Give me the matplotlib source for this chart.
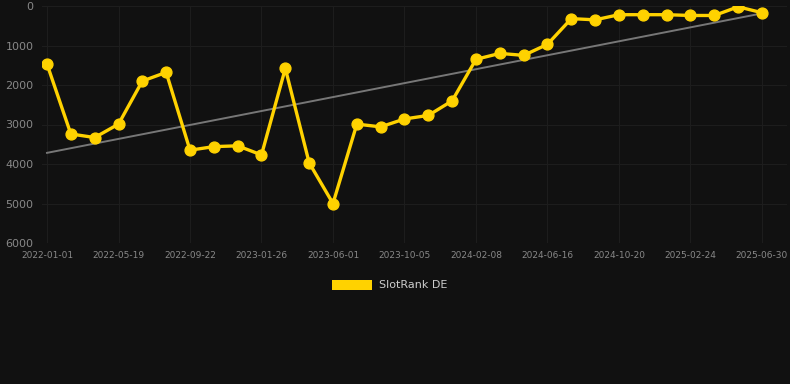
import matplotlib.pyplot as plt
import numpy as np

# Ranking history (lower is better), one point every ~6 weeks
ranks = [1470, 3240, 3330, 2990, 1900, 1680, 3650, 3560, 3540, 3770,
         1580, 3970, 5000, 2990, 3060, 2860, 2770, 2400, 1350, 1200,
         1250, 970, 320, 350, 220, 220, 220, 240, 240, 20, 170]
tick_labels = ['2022-01-01', '2022-05-19', '2022-09-22', '2023-01-26', '2023-06-01',
               '2023-10-05', '2024-02-08', '2024-06-16', '2024-10-20', '2025-02-24',
               '2025-06-30']
series_name = 'SlotRank DE'

bg = '#111111'
gold = '#FFD200'

x = np.arange(len(ranks))
fig = plt.figure(figsize=(7.9, 3.84), dpi=100, facecolor=bg)
ax = fig.add_axes([42 / 790, 1 - 243 / 384, 745 / 790, 237 / 384], facecolor=bg)

# trend line (least squares fit)
k, b = np.polyfit(x, ranks, 1)
ax.plot(x, k * x + b, color='#777777', linewidth=1.4, zorder=2)

ax.plot(x, ranks, color=gold, linewidth=2.4, marker='o', markersize=7.8, zorder=3)

ax.set_xlim(-0.21, 31.05)
ax.set_ylim(6000, 0)
ax.set_yticks(range(0, 6001, 1000))
ax.set_xticks(x[::3])
ax.set_xticklabels(tick_labels)
ax.tick_params(axis='x', colors='#888888', labelsize=6.5, length=0, pad=6)
ax.tick_params(axis='y', colors='#888888', labelsize=8, length=0, pad=6)
ax.grid(True, color='#1d1d1d', linewidth=0.8)
ax.set_axisbelow(True)
for s in ax.spines.values():
    s.set_visible(False)

handle = plt.Rectangle((0, 0), 1, 1, facecolor=gold)
fig.legend([handle], [series_name], loc='center', bbox_to_anchor=(390 / 790, 1 - 285 / 384),
           frameon=False, fontsize=8, labelcolor='#cccccc', handlelength=3.6, handleheight=1.0,
           handletextpad=0.6)

fig.savefig('out.png', facecolor=bg)
